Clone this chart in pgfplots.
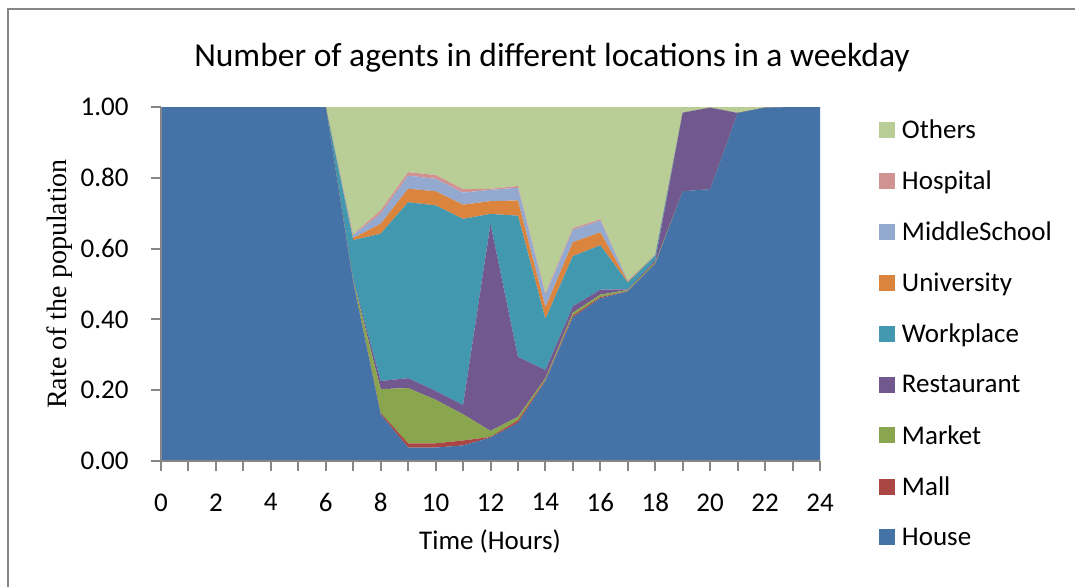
\documentclass[border=0pt]{standalone}
\usepackage{pgfplots}
\pgfplotsset{compat=1.18}
\usepackage{pgfplotstable}
\usepackage{fontspec}
\setmainfont{Carlito}
\newfontfamily\timesfont{Liberation Serif}

\definecolor{cHouse}{HTML}{4572A7}
\definecolor{cMall}{HTML}{AA4643}
\definecolor{cMarket}{HTML}{89A54E}
\definecolor{cRest}{HTML}{71588F}
\definecolor{cWork}{HTML}{4198AF}
\definecolor{cUni}{HTML}{DB843D}
\definecolor{cMid}{HTML}{93A9CF}
\definecolor{cHosp}{HTML}{D19392}
\definecolor{cOther}{HTML}{B9CD96}
\definecolor{axgray}{HTML}{868686}

\pgfplotstableread{
h  House Mall  Market Restaurant Workplace University MiddleSchool Hospital Others
0  1.000 0.000 0.000  0.000      0.000     0.000      0.000        0.000    0.000
1  1.000 0.000 0.000  0.000      0.000     0.000      0.000        0.000    0.000
2  1.000 0.000 0.000  0.000      0.000     0.000      0.000        0.000    0.000
3  1.000 0.000 0.000  0.000      0.000     0.000      0.000        0.000    0.000
4  1.000 0.000 0.000  0.000      0.000     0.000      0.000        0.000    0.000
5  1.000 0.000 0.000  0.000      0.000     0.000      0.000        0.000    0.000
6  1.000 0.000 0.000  0.000      0.000     0.000      0.000        0.000    0.000
7  0.505 0.000 0.004  0.003      0.112     0.006      0.008        0.002    0.360
8  0.132 0.004 0.067  0.023      0.416     0.028      0.028        0.010    0.292
9  0.038 0.012 0.156  0.028      0.497     0.038      0.037        0.010    0.184
10 0.038 0.012 0.123  0.025      0.524     0.040      0.035        0.011    0.192
11 0.044 0.014 0.074  0.026      0.526     0.040      0.034        0.010    0.232
12 0.066 0.002 0.017  0.585      0.028     0.036      0.032        0.003    0.231
13 0.108 0.007 0.010  0.169      0.399     0.043      0.036        0.005    0.223
14 0.226 0.003 0.005  0.023      0.144     0.033      0.035        0.005    0.526
15 0.406 0.005 0.008  0.018      0.142     0.039      0.035        0.005    0.342
16 0.460 0.003 0.007  0.014      0.125     0.037      0.033        0.004    0.317
17 0.479 0.001 0.003  0.002      0.019     0.003      0.002        0.000    0.491
18 0.557 0.001 0.004  0.005      0.013     0.001      0.001        0.000    0.418
19 0.762 0.000 0.000  0.222      0.000     0.000      0.000        0.000    0.016
20 0.768 0.000 0.000  0.230      0.000     0.000      0.000        0.000    0.002
21 0.983 0.000 0.000  0.000      0.000     0.000      0.000        0.000    0.017
22 0.998 0.000 0.000  0.000      0.000     0.000      0.000        0.000    0.002
23 1.000 0.000 0.000  0.000      0.000     0.000      0.000        0.000    0.000
24 1.000 0.000 0.000  0.000      0.000     0.000      0.000        0.000    0.000
}\loc

\begin{document}
\begin{tikzpicture}
\useasboundingbox (0,0) rectangle (1075bp,-587bp);
\draw[color=axgray, line width=2bp] (8bp,-640bp) -- (8bp,-9bp) -- (1120bp,-9bp);
\node[rotate=90, font=\fontsize{28bp}{32bp}\selectfont\timesfont, anchor=center] at (60bp,-284bp) {Rate of the population};
\begin{axis}[
  at={(161bp,-461bp)}, anchor=south west,
  scale only axis, width=659bp, height=354bp,
  xmin=0, xmax=24, ymin=0, ymax=1,
  stack plots=y, area style,
  axis on top=true,
  axis lines=left,
  axis line style={draw=axgray, line width=2.5bp, -},
  xtick={0,2,...,24}, minor xtick={1,3,...,23},
  ytick={0,0.2,0.4,0.6,0.8,1},
  tick align=outside, major tick length=10bp, minor tick length=10bp,
  every tick/.style={draw=axgray, line width=2bp},
  minor tick style={draw=axgray, line width=2bp},
  /pgf/number format/assume math mode=true,
  yticklabel style={/pgf/number format/.cd, fixed, fixed zerofill, precision=2, /tikz/.cd, xshift=-19bp},
  xticklabel style={yshift=-19bp},
  ticklabel style={font=\fontsize{27bp}{32bp}\selectfont, text=black},
  title={Number of agents in different locations in a weekday},
  title style={font=\fontsize{33.5bp}{40bp}\selectfont, at={(axis description cs:0.5933,1.121)}, anchor=center},
  xlabel={Time (Hours)},
  xlabel style={font=\fontsize{27bp}{32bp}\selectfont, at={(axis description cs:0.4992,-0.226)}, anchor=center},
  reverse legend,
  legend cell align=left,
  legend image code/.code={\fill[#1] (0bp,-8bp) rectangle (16bp,8bp);},
  legend style={draw=none, fill=none, font=\fontsize{27bp}{32bp}\selectfont,
    at={(axis description cs:1.0895,0.965)}, anchor=north west,
    inner sep=0pt, outer sep=0pt, row sep=31bp,
    nodes={inner sep=0pt, outer sep=0pt},
    /tikz/every odd column/.append style={column sep=7bp}},
]
\addplot[fill=cHouse, draw=none] table[x=h, y=House] {\loc} \closedcycle;
\addlegendentry{House}
\addplot[fill=cMall, draw=none] table[x=h, y=Mall] {\loc} \closedcycle;
\addlegendentry{Mall}
\addplot[fill=cMarket, draw=none] table[x=h, y=Market] {\loc} \closedcycle;
\addlegendentry{Market}
\addplot[fill=cRest, draw=none] table[x=h, y=Restaurant] {\loc} \closedcycle;
\addlegendentry{Restaurant}
\addplot[fill=cWork, draw=none] table[x=h, y=Workplace] {\loc} \closedcycle;
\addlegendentry{Workplace}
\addplot[fill=cUni, draw=none] table[x=h, y=University] {\loc} \closedcycle;
\addlegendentry{University}
\addplot[fill=cMid, draw=none] table[x=h, y=MiddleSchool] {\loc} \closedcycle;
\addlegendentry{MiddleSchool}
\addplot[fill=cHosp, draw=none] table[x=h, y=Hospital] {\loc} \closedcycle;
\addlegendentry{Hospital}
\addplot[fill=cOther, draw=none] table[x=h, y=Others] {\loc} \closedcycle;
\addlegendentry{Others}
\end{axis}
\end{tikzpicture}
\end{document}
